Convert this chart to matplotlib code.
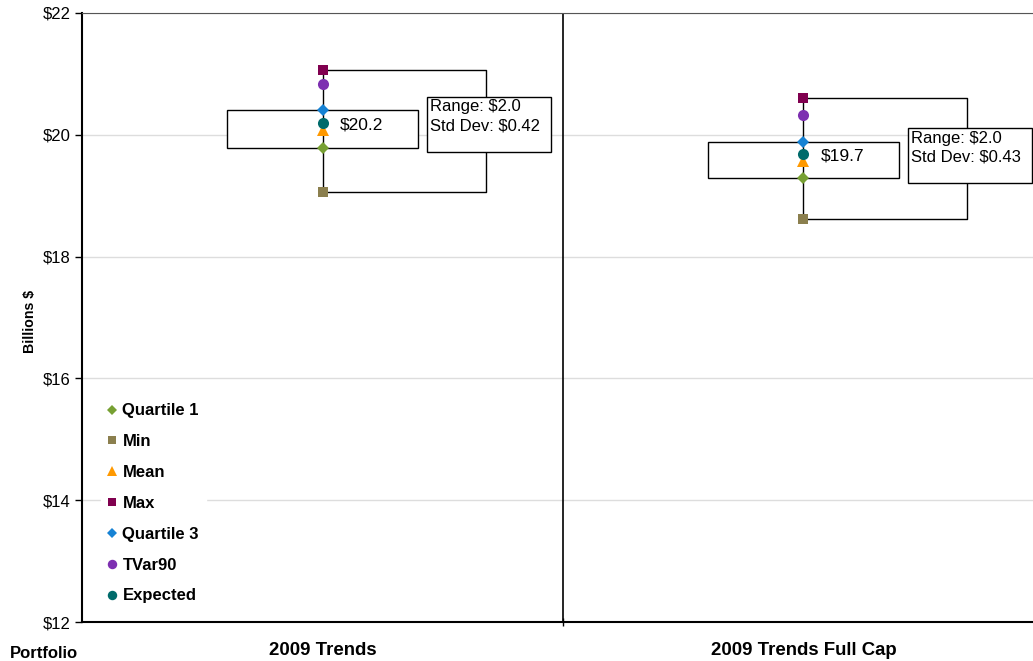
import matplotlib
matplotlib.use("Agg")
import matplotlib.pyplot as plt
from matplotlib.patches import Rectangle
from matplotlib.lines import Line2D

plt.rcParams['font.family'] = ['Liberation Sans', 'DejaVu Sans']

# portfolio statistics (billions $)
categories = ['2009 Trends', '2009 Trends Full Cap']
q1_vals = [19.78, 19.29]
min_vals = [19.06, 18.62]
mean_vals = [20.08, 19.57]
max_vals = [21.06, 20.60]
q3_vals = [20.41, 19.88]
tvar_vals = [20.83, 20.33]
exp_vals = [20.19, 19.68]
std_vals = [0.42, 0.43]

series = [
    ('Quartile 1', q1_vals, 'D', '#77a033', 6),
    ('Min', min_vals, 's', '#8b7f4e', 6.5),
    ('Mean', mean_vals, '^', '#ff9900', 8),
    ('Max', max_vals, 's', '#80004f', 6.5),
    ('Quartile 3', q3_vals, 'D', '#1682d4', 6),
    ('TVar90', tvar_vals, 'o', '#7d2fb1', 8),
    ('Expected', exp_vals, 'o', '#006b6b', 8),
]

fig = plt.figure(figsize=(10.33, 6.61), dpi=100)
ax = fig.add_axes([82 / 1033, 39 / 661, 951 / 1033, 609 / 661])

xpos = [0.5, 1.5]
ax.set_xlim(0, 951 / 481)
ax.set_ylim(12, 22)

for i, x in enumerate(xpos):
    # whisker from min to max
    ax.plot([x, x], [min_vals[i], max_vals[i]], color='black', lw=1, zorder=3)
    # interquartile box
    ax.add_patch(Rectangle((x - 0.1985, q1_vals[i]), 0.397, q3_vals[i] - q1_vals[i],
                           facecolor='white', edgecolor='black', lw=1, zorder=2))
    ax.text(x + 0.035, exp_vals[i] - 0.03, '${:.1f}'.format(exp_vals[i]), fontsize=12.5,
            va='center', ha='left', zorder=5)
    # range bracket
    bx = x + 0.339
    ax.plot([x, bx, bx, x], [max_vals[i], max_vals[i], min_vals[i], min_vals[i]],
            color='black', lw=1, zorder=2)
    ax.add_patch(Rectangle((x + 0.218, exp_vals[i] - 0.47), 0.258, 0.90,
                           facecolor='white', edgecolor='black', lw=1, zorder=3))
    rng = max_vals[i] - min_vals[i]
    ax.text(x + 0.224, exp_vals[i] + 0.39,
            'Range: ${:.1f}\nStd Dev: ${:.2f}'.format(rng, std_vals[i]),
            fontsize=12, va='top', ha='left', linespacing=1.3, zorder=4)

handles = []
for name, vals, mk, col, ms in series:
    ax.plot(xpos, vals, linestyle='none', marker=mk, color=col, markersize=ms,
            markeredgewidth=0, zorder=4)
    handles.append(Line2D([], [], linestyle='none', marker=mk, color=col,
                          markersize=ms * 0.85, markeredgewidth=0, label=name))

# separator between categories
ax.axvline(1.0, color='black', lw=1.2, zorder=1)

ax.yaxis.grid(True, color='#dddddd', lw=1)
ax.set_axisbelow(True)
ax.set_yticks(range(12, 23, 2))
ax.set_yticklabels(['${}'.format(v) for v in range(12, 23, 2)], fontsize=12)
ax.set_xticks([1.0])
ax.set_xticklabels([])
ax.tick_params(axis='y', direction='out', length=5, width=1, pad=3)
ax.tick_params(axis='x', direction='inout', length=6, width=1)

ax.spines['right'].set_visible(False)
ax.spines['top'].set_color('#555555')
ax.spines['left'].set_linewidth(1.5)
ax.spines['bottom'].set_linewidth(1.5)

for x, c in zip(xpos, categories):
    ax.text(x, -0.046, c, transform=ax.get_xaxis_transform(), ha='center', va='center',
            fontsize=13.4, fontweight='bold')
fig.text(10 / 1033, 1 - 653 / 661, 'Portfolio', fontsize=12, fontweight='bold',
         ha='left', va='center')
fig.text(30 / 1033, 1 - 321 / 661, 'Billions $', fontsize=10.2, fontweight='bold',
         rotation=90, ha='center', va='center')

leg = ax.legend(handles=handles, loc='lower left', bbox_to_anchor=(0.011, 0.006),
                frameon=True, fancybox=False, edgecolor='white', framealpha=1,
                prop={'weight': 'bold', 'size': 12}, labelspacing=0.95,
                handlelength=0.6, handletextpad=0.3, borderpad=0.4)

fig.savefig('out.png', dpi=100)
